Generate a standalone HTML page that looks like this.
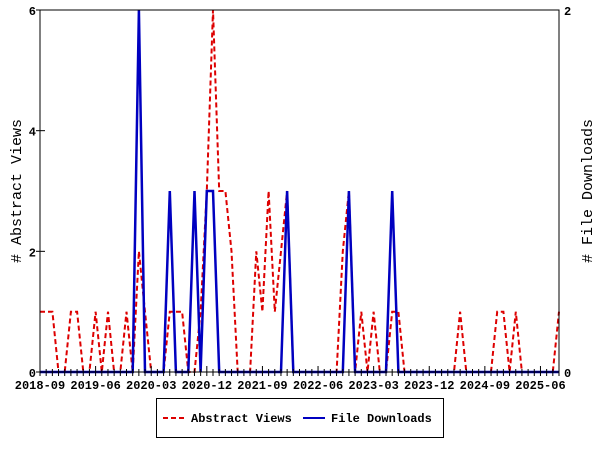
<!DOCTYPE html>
<html><head><meta charset="utf-8"><style>
body{margin:0;background:#fff;}
svg text{font-family:"Liberation Mono",monospace;font-size:12px;font-weight:bold;fill:#000;}
</style></head><body>
<svg id="chart" width="600" height="450" xmlns="http://www.w3.org/2000/svg">
<g id="grid"></g>
<path id="views-line" fill="none" stroke="#dd0000" stroke-width="2" stroke-dasharray="5,3"/>
<path id="downloads-line" fill="none" stroke="#0000c0" stroke-width="2.5"/>
<rect x="40" y="10" width="519" height="362" fill="none" stroke="#000" stroke-width="1"/>
<g id="axes"></g>
<text transform="translate(21,191) rotate(-90)" text-anchor="middle" style="font-size:15px;font-weight:normal">#  Abstract Views</text>
<text transform="translate(592,191) rotate(-90)" text-anchor="middle" style="font-size:15px;font-weight:normal"># File Downloads</text>
<g>
<rect x="156.5" y="398.5" width="287" height="39" fill="#fff" stroke="#000"/>
<line x1="163" y1="418" x2="184" y2="418" stroke="#dd0000" stroke-width="2" stroke-dasharray="5,3"/>
<text x="191" y="422">Abstract Views</text>
<line x1="303" y1="418" x2="325" y2="418" stroke="#0000c0" stroke-width="2"/>
<text x="331" y="422">File Downloads</text>
</g>
</svg>
<script>
const months = 85; // 2018-09 .. 2025-09
const views = [1,1,1,0,0,1,1,0,0,1,0,1,0,0,1,0,2,1,0,0,0,1,1,1,0,0,1,3,6,3,3,2,0,0,0,2,1,3,1,2,3,0,0,0,0,0,0,0,0,2,3,0,1,0,1,0,0,1,1,0,0,0,0,0,0,0,0,0,1,0,0,0,0,0,1,1,0,1,0,0,0,0,0,0,1];
const downloads = [0,0,0,0,0,0,0,0,0,0,0,0,0,0,0,0,2,0,0,0,0,1,0,0,0,1,0,1,1,0,0,0,0,0,0,0,0,0,0,0,1,0,0,0,0,0,0,0,0,0,1,0,0,0,0,0,0,1,0,0,0,0,0,0,0,0,0,0,0,0,0,0,0,0,0,0,0,0,0,0,0,0,0,0,0];
const xTickLabels = ["2018-09","2019-06","2020-03","2020-12","2021-09","2022-06","2023-03","2023-12","2024-09","2025-06"];
const leftTicks = [0,2,4,6];
const rightTicks = [0,2];
const X0=40,X1=559,Y0=372,Y1=10;
const x=i=>X0+i*(X1-X0)/(months-1);
const yL=v=>Y0-v*(Y0-Y1)/6;
const yR=v=>Y0-v*(Y0-Y1)/2;
document.getElementById('views-line').setAttribute('d',views.map((v,i)=>(i?'L':'M')+x(i).toFixed(1)+','+yL(v).toFixed(1)).join(''));
document.getElementById('downloads-line').setAttribute('d',downloads.map((v,i)=>(i?'L':'M')+x(i).toFixed(1)+','+yR(v).toFixed(1)).join(''));
const NS='http://www.w3.org/2000/svg';
const ax=document.getElementById('axes');
function mk(tag,attrs,txt){const e=document.createElementNS(NS,tag);for(const k in attrs)e.setAttribute(k,attrs[k]);if(txt!==undefined)e.textContent=txt;ax.appendChild(e);return e;}
for(let i=0;i<months;i++){
  const t=mk('line',{x1:x(i),x2:x(i),y1:Y0+4,y2:Y0-(i%9===0?6:3),stroke:'#000'});
  
  
}
xTickLabels.forEach((l,k)=>{
  const t=mk('text',{x:x(k*9),y:389,'text-anchor':'middle'},l);
  
  
});
leftTicks.forEach(v=>{
  const t=mk('text',{x:36,y:yL(v)+5,'text-anchor':'end'},String(v));
  
  
  const l=mk('line',{x1:X0-4,x2:X0+5,y1:yL(v),y2:yL(v),stroke:'#000'});
  
  
});
rightTicks.forEach(v=>{
  const t=mk('text',{x:564,y:yR(v)+5,'text-anchor':'start'},String(v));
  
  
});
</script>
</body></html>
